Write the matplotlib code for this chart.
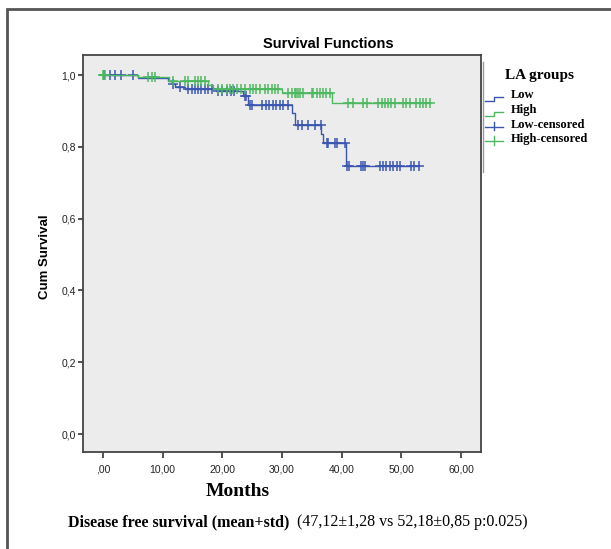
import numpy as np
import matplotlib
matplotlib.use("Agg")
import matplotlib.pyplot as plt
from matplotlib.lines import Line2D
from matplotlib.patches import Rectangle

# step data: event times (months) and survival after each event
low_times = [0, 5.9, 10.9, 11.5, 12.1, 13.7, 19.0, 23.4, 24.3, 31.6, 32.2, 36.6, 36.9, 40.8]
low_surv = [1.0, 0.991, 0.983, 0.975, 0.967, 0.960, 0.956, 0.941, 0.916, 0.894, 0.862, 0.837, 0.812, 0.748]
high_times = [0, 5.9, 11.0, 17.6, 18.5, 30.0, 38.4]
high_surv = [1.0, 0.994, 0.984, 0.972, 0.961, 0.949, 0.921]

# censored observations (months)
low_cens = [0.2, 1.2, 2.0, 3.0, 5.0, 11.7, 12.9, 14.2, 14.9, 15.4, 15.9, 16.5, 17.1, 17.6,
            18.2, 19.2, 19.9, 20.7, 21.5, 21.9, 23.8, 24.0, 24.6, 24.9, 26.6, 27.4, 27.9,
            28.5, 29.0, 29.6, 30.2, 31.0, 32.7, 33.3, 34.4, 35.5, 36.5, 37.5, 37.7, 38.9,
            39.2, 40.5, 40.9, 41.3, 43.3, 43.6, 43.9, 46.4, 46.9, 47.5, 48.1, 48.6, 49.2,
            49.7, 51.7, 52.2, 53.0]
high_cens = [0.0, 0.3, 7.6, 8.2, 8.7, 11.8, 13.7, 14.3, 15.4, 16.0, 16.5, 17.1, 19.3, 19.9,
             20.7, 21.3, 21.8, 22.4, 23.2, 23.8, 24.6, 25.2, 25.7, 26.3, 27.1, 27.7, 28.3,
             28.8, 29.4, 31.0, 31.6, 32.2, 32.4, 32.7, 33.0, 33.6, 35.0, 35.2, 35.8, 36.3,
             36.9, 37.4, 38.0, 41.1, 41.9, 43.6, 44.2, 46.1, 46.7, 47.2, 47.8, 48.3, 48.9,
             50.3, 50.8, 51.4, 52.5, 53.1, 53.6, 54.2, 54.8]

x_ticks = [0, 10, 20, 30, 40, 50, 60]
x_labels = [",00", "10,00", "20,00", "30,00", "40,00", "50,00", "60,00"]
y_ticks = [0.0, 0.2, 0.4, 0.6, 0.8, 1.0]
y_labels = ["0,0", "0,2", "0,4", "0,6", "0,8", "1,0"]
legend_labels = ["Low", "High", "Low-censored", "High-censored"]

BLUE = "#3B56B0"
GREEN = "#4DB860"
SANS = "Liberation Sans"
SERIF = "Liberation Serif"

W, H = 611, 549


def px(x, y):
    return x / W, 1 - y / H


def draw_group(ax, times, surv, cens, color):
    t = np.array(times)
    s = np.array(surv)
    xs = np.append(t, cens[-1])
    ys = np.append(s, s[-1])
    ax.step(xs, ys, where="post", color=color, lw=1.0)
    idx = np.searchsorted(t, cens, side="right") - 1
    ax.plot(cens, s[idx], ls="none", marker="+", ms=7, mew=1.1, color=color)


fig = plt.figure(figsize=(W / 100, H / 100), dpi=100)
fig.patch.set_facecolor("white")

ax = fig.add_axes([83 / W, 1 - 452 / H, (481 - 83) / W, (452 - 55) / H])
ax.set_facecolor("#ECECEC")

draw_group(ax, low_times, low_surv, low_cens, BLUE)
draw_group(ax, high_times, high_surv, high_cens, GREEN)

ax.set_xlim(-3.35, 63.35)
ax.set_ylim(-0.05, 1.056)
ax.set_xticks(x_ticks)
ax.set_xticklabels(x_labels, family=SANS, fontsize=7.5, color="#222222")
ax.set_yticks(y_ticks)
ax.set_yticklabels(y_labels, family=SANS, fontsize=7.5, color="#222222")
ax.tick_params(axis="x", length=4, width=1.2, pad=5, color="#333333")
ax.tick_params(axis="y", length=3.5, width=1.2, pad=1.5, color="#333333")
for sp in ax.spines.values():
    sp.set_color("#444444")
    sp.set_linewidth(1.3)

fig.text(*px(328, 44), "Survival Functions", family=SANS, fontweight="bold", fontsize=10.5,
         ha="center", va="center")
fig.text(*px(45, 257), "Cum Survival", family=SANS, fontweight="bold", fontsize=9.5,
         rotation=90, ha="center", va="center")

fig.text(*px(238, 492), "Months", family=SERIF, fontweight="bold", fontsize=14,
         ha="center", va="center")
fig.text(*px(68, 522), "Disease free survival (mean+std)", family=SERIF, fontweight="bold",
         fontsize=11.5, ha="left", va="center")
fig.text(*px(297, 522), "(47,12\u00b11,28 vs 52,18\u00b10,85 p:0.025)", family=SERIF,
         fontsize=11.5, ha="left", va="center")

# legend drawn by hand, SPSS style
fig.add_artist(Line2D(*zip(px(483, 62), px(483, 172)), color="#999999", lw=1.0))
fig.text(*px(505, 76), "LA groups", family=SERIF, fontweight="bold", fontsize=11,
         ha="left", va="center")
rows = [95, 110, 124.5, 139]
colors = [BLUE, GREEN, BLUE, GREEN]
for i, (lab, col, ry) in enumerate(zip(legend_labels, colors, rows)):
    if i < 2:
        pts = [px(485, ry + 6), px(494, ry + 6), px(494, ry + 2), px(503, ry + 2)]
        fig.add_artist(Line2D(*zip(*pts), color=col, lw=1.0))
    else:
        fig.add_artist(Line2D(*zip(px(485, ry + 2), px(503, ry + 2)), color=col, lw=1.0))
        fig.add_artist(Line2D(*zip(px(494, ry - 3), px(494, ry + 6)), color=col, lw=1.0))
    fig.text(*px(511, ry), lab, family=SERIF, fontweight="bold", fontsize=9,
             ha="left", va="center")

# outer frame of the original output panel
fig.add_artist(Rectangle(px(7, 560), 2, (560 - 9) / H, transform=fig.transFigure,
                         fill=False, edgecolor="#555555", lw=2))

fig.savefig("out.png", dpi=100)
